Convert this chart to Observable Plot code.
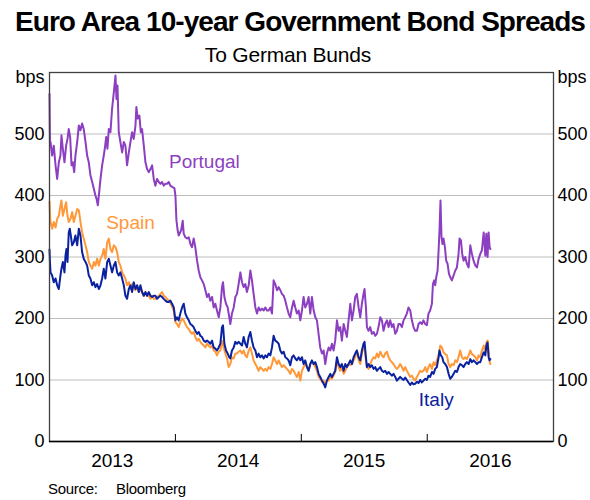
<!DOCTYPE html>
<html>
<head>
<meta charset="utf-8">
<script src="https://cdn.jsdelivr.net/npm/d3@7"></script>
<script src="https://cdn.jsdelivr.net/npm/@observablehq/plot@0.6"></script>
<style>
  body { margin: 0; background: #fff; font-family: Arial, "Liberation Sans", sans-serif; }
  #wrap { position: relative; width: 590px; height: 500px; overflow: hidden; }
  #title { position: absolute; top: 8px; left: 0; width: 600px; text-align: center; font-weight: bold; font-size: 28px; line-height: 1; letter-spacing: -0.95px; color: #000; white-space: nowrap; }
  #sub { position: absolute; top: 44px; left: 0; width: 576px; text-align: center; font-size: 21px; line-height: 1; letter-spacing: -0.2px; color: #000; white-space: nowrap; }
  #chart { position: absolute; top: 62px; left: 0; }
  #src { position: absolute; top: 481px; left: 48px; font-size: 15px; line-height: 1; color: #000; letter-spacing: -0.3px; white-space: nowrap; }
  #src span { display: inline-block; width: 68px; }
</style>
</head>
<body>
<div id="wrap">
  <div id="title">Euro Area 10-year Government Bond Spreads</div>
  <div id="sub">To German Bunds</div>
  <div id="chart"></div>
  <div id="src"><span>Source:</span>Bloomberg</div>
</div>
<script>
// Decimal-year dates and spreads in basis points
const portugal = [[2013.000,565],[2013.004,480],[2013.008,487],[2013.021,465],[2013.034,481],[2013.048,449],[2013.061,427],[2013.074,454],[2013.087,465],[2013.095,498],[2013.106,476],[2013.119,454],[2013.132,481],[2013.143,492],[2013.153,508],[2013.164,495],[2013.175,449],[2013.185,454],[2013.196,438],[2013.206,465],[2013.220,487],[2013.233,514],[2013.246,506],[2013.259,517],[2013.272,508],[2013.286,487],[2013.299,465],[2013.312,454],[2013.325,433],[2013.339,422],[2013.352,411],[2013.365,400],[2013.373,395],[2013.384,384],[2013.392,400],[2013.405,427],[2013.418,449],[2013.431,465],[2013.439,476],[2013.450,495],[2013.460,476],[2013.471,508],[2013.484,503],[2013.497,541],[2013.511,568],[2013.524,595],[2013.532,557],[2013.540,579],[2013.550,503],[2013.563,487],[2013.577,470],[2013.590,487],[2013.603,481],[2013.616,449],[2013.630,470],[2013.643,487],[2013.656,503],[2013.669,492],[2013.683,514],[2013.690,544],[2013.701,525],[2013.714,530],[2013.725,503],[2013.735,508],[2013.749,481],[2013.762,454],[2013.775,443],[2013.788,438],[2013.802,443],[2013.815,449],[2013.828,427],[2013.841,416],[2013.854,427],[2013.868,422],[2013.881,419],[2013.894,422],[2013.907,416],[2013.921,419],[2013.934,419],[2013.947,422],[2013.960,416],[2013.973,414],[2013.992,412],[2014.000,400],[2014.008,360],[2014.018,343],[2014.026,335],[2014.045,343],[2014.058,359],[2014.066,338],[2014.079,332],[2014.092,330],[2014.106,332],[2014.119,321],[2014.132,316],[2014.145,330],[2014.158,316],[2014.172,294],[2014.185,278],[2014.198,267],[2014.211,262],[2014.225,256],[2014.238,246],[2014.251,235],[2014.264,240],[2014.277,229],[2014.291,235],[2014.304,218],[2014.317,224],[2014.330,213],[2014.344,202],[2014.357,218],[2014.370,251],[2014.378,259],[2014.389,235],[2014.402,224],[2014.415,218],[2014.428,202],[2014.436,191],[2014.449,208],[2014.463,218],[2014.476,235],[2014.489,240],[2014.502,256],[2014.516,275],[2014.529,259],[2014.542,251],[2014.555,256],[2014.568,243],[2014.582,254],[2014.595,278],[2014.608,262],[2014.621,240],[2014.635,218],[2014.648,208],[2014.661,218],[2014.674,213],[2014.688,216],[2014.701,213],[2014.714,218],[2014.727,213],[2014.740,213],[2014.754,218],[2014.767,208],[2014.780,262],[2014.793,256],[2014.807,246],[2014.820,251],[2014.833,246],[2014.846,240],[2014.860,237],[2014.873,229],[2014.886,218],[2014.899,208],[2014.912,202],[2014.926,218],[2014.939,229],[2014.952,218],[2014.965,208],[2014.979,213],[2014.992,197],[2015.005,213],[2015.018,235],[2015.031,218],[2015.045,224],[2015.058,235],[2015.071,208],[2015.084,235],[2015.098,213],[2015.111,202],[2015.124,197],[2015.137,175],[2015.150,153],[2015.164,143],[2015.177,148],[2015.190,126],[2015.203,143],[2015.217,153],[2015.230,148],[2015.243,159],[2015.256,148],[2015.269,164],[2015.283,197],[2015.296,180],[2015.309,186],[2015.322,164],[2015.336,191],[2015.349,180],[2015.362,170],[2015.375,197],[2015.389,224],[2015.402,197],[2015.415,213],[2015.428,235],[2015.441,240],[2015.455,218],[2015.468,202],[2015.481,224],[2015.494,240],[2015.502,248],[2015.513,218],[2015.521,186],[2015.534,180],[2015.547,186],[2015.560,175],[2015.574,178],[2015.587,172],[2015.600,175],[2015.613,186],[2015.627,202],[2015.640,197],[2015.653,180],[2015.666,191],[2015.680,197],[2015.693,186],[2015.706,197],[2015.719,186],[2015.732,191],[2015.746,175],[2015.759,180],[2015.772,191],[2015.785,191],[2015.799,186],[2015.812,197],[2015.825,202],[2015.838,208],[2015.851,218],[2015.865,213],[2015.878,197],[2015.891,186],[2015.904,180],[2015.918,180],[2015.931,191],[2015.944,194],[2015.957,191],[2015.970,197],[2015.984,191],[2015.997,189],[2016.010,208],[2016.023,213],[2016.037,224],[2016.045,256],[2016.055,262],[2016.063,254],[2016.071,267],[2016.082,278],[2016.090,311],[2016.097,343],[2016.105,392],[2016.113,332],[2016.121,321],[2016.129,330],[2016.140,316],[2016.150,294],[2016.161,289],[2016.172,273],[2016.182,267],[2016.195,262],[2016.209,270],[2016.222,278],[2016.235,283],[2016.248,305],[2016.256,330],[2016.267,327],[2016.277,305],[2016.288,294],[2016.301,300],[2016.314,289],[2016.328,283],[2016.341,319],[2016.354,305],[2016.367,294],[2016.381,286],[2016.394,283],[2016.407,297],[2016.420,305],[2016.433,311],[2016.447,340],[2016.460,302],[2016.468,338],[2016.478,300],[2016.486,340],[2016.494,316],[2016.500,313]];

const spain = [[2013.000,390],[2013.004,370],[2013.008,357],[2013.021,346],[2013.034,357],[2013.048,348],[2013.061,362],[2013.074,367],[2013.087,384],[2013.095,392],[2013.106,367],[2013.119,378],[2013.132,389],[2013.143,367],[2013.153,357],[2013.167,362],[2013.180,373],[2013.193,357],[2013.206,367],[2013.220,378],[2013.233,376],[2013.246,357],[2013.259,340],[2013.272,330],[2013.286,319],[2013.299,308],[2013.312,292],[2013.325,286],[2013.339,281],[2013.352,292],[2013.365,286],[2013.378,297],[2013.392,286],[2013.405,297],[2013.418,302],[2013.431,313],[2013.444,297],[2013.458,324],[2013.471,330],[2013.484,313],[2013.497,308],[2013.511,319],[2013.524,316],[2013.537,308],[2013.550,292],[2013.563,286],[2013.577,275],[2013.590,270],[2013.603,265],[2013.616,254],[2013.630,259],[2013.643,248],[2013.656,256],[2013.669,251],[2013.683,246],[2013.696,254],[2013.709,243],[2013.722,248],[2013.735,243],[2013.749,237],[2013.762,243],[2013.775,237],[2013.788,237],[2013.802,232],[2013.815,237],[2013.828,232],[2013.841,232],[2013.854,235],[2013.868,237],[2013.881,240],[2013.894,243],[2013.907,237],[2013.921,235],[2013.934,232],[2013.947,229],[2013.960,226],[2013.987,213],[2014.000,194],[2014.013,191],[2014.026,186],[2014.039,194],[2014.053,200],[2014.066,197],[2014.079,191],[2014.092,186],[2014.106,183],[2014.119,178],[2014.132,175],[2014.145,178],[2014.158,170],[2014.172,164],[2014.185,167],[2014.198,162],[2014.211,159],[2014.225,156],[2014.238,153],[2014.251,159],[2014.264,156],[2014.277,153],[2014.291,156],[2014.304,148],[2014.317,146],[2014.330,140],[2014.344,146],[2014.357,148],[2014.370,164],[2014.383,153],[2014.397,143],[2014.410,135],[2014.423,121],[2014.436,126],[2014.449,137],[2014.463,135],[2014.476,143],[2014.489,143],[2014.502,146],[2014.516,148],[2014.529,143],[2014.542,148],[2014.555,140],[2014.568,137],[2014.582,148],[2014.595,153],[2014.608,143],[2014.621,132],[2014.635,126],[2014.648,121],[2014.661,115],[2014.674,121],[2014.688,118],[2014.701,115],[2014.714,118],[2014.727,115],[2014.740,121],[2014.754,118],[2014.767,126],[2014.780,137],[2014.793,132],[2014.807,126],[2014.820,132],[2014.833,126],[2014.846,121],[2014.860,124],[2014.873,121],[2014.886,118],[2014.899,115],[2014.912,110],[2014.926,118],[2014.939,115],[2014.952,110],[2014.965,105],[2014.979,113],[2014.992,99],[2015.005,115],[2015.018,121],[2015.031,126],[2015.045,121],[2015.058,115],[2015.071,126],[2015.084,129],[2015.098,126],[2015.111,121],[2015.124,115],[2015.137,105],[2015.150,102],[2015.164,97],[2015.177,99],[2015.190,94],[2015.203,99],[2015.217,99],[2015.230,105],[2015.243,102],[2015.256,107],[2015.269,113],[2015.283,132],[2015.296,121],[2015.309,115],[2015.322,121],[2015.336,110],[2015.349,115],[2015.362,121],[2015.375,126],[2015.389,124],[2015.402,126],[2015.415,132],[2015.428,137],[2015.441,148],[2015.455,132],[2015.468,126],[2015.481,143],[2015.494,153],[2015.502,156],[2015.513,132],[2015.521,121],[2015.534,118],[2015.547,126],[2015.560,132],[2015.574,137],[2015.587,135],[2015.600,143],[2015.613,137],[2015.627,146],[2015.640,140],[2015.653,137],[2015.666,143],[2015.680,146],[2015.693,137],[2015.706,132],[2015.719,129],[2015.732,126],[2015.746,121],[2015.759,118],[2015.772,121],[2015.785,126],[2015.799,121],[2015.812,115],[2015.825,121],[2015.838,115],[2015.851,110],[2015.865,105],[2015.878,107],[2015.891,102],[2015.904,99],[2015.918,105],[2015.931,110],[2015.944,115],[2015.957,113],[2015.970,115],[2015.984,121],[2015.997,113],[2016.010,121],[2016.023,126],[2016.037,118],[2016.050,129],[2016.063,124],[2016.076,132],[2016.090,140],[2016.103,156],[2016.116,153],[2016.129,145],[2016.142,142],[2016.156,140],[2016.169,126],[2016.182,121],[2016.195,126],[2016.209,124],[2016.222,132],[2016.235,129],[2016.248,137],[2016.261,148],[2016.275,137],[2016.288,134],[2016.301,137],[2016.314,134],[2016.328,140],[2016.341,148],[2016.354,142],[2016.367,140],[2016.381,137],[2016.394,132],[2016.407,140],[2016.420,137],[2016.433,148],[2016.447,156],[2016.460,145],[2016.468,161],[2016.478,164],[2016.486,148],[2016.494,129],[2016.500,126]];

const italy = [[2013.000,312],[2013.004,290],[2013.008,275],[2013.021,270],[2013.034,259],[2013.048,265],[2013.061,254],[2013.074,248],[2013.087,270],[2013.095,281],[2013.106,292],[2013.119,275],[2013.127,302],[2013.135,313],[2013.143,292],[2013.153,340],[2013.161,346],[2013.169,335],[2013.180,319],[2013.193,324],[2013.206,335],[2013.220,319],[2013.233,346],[2013.246,335],[2013.259,308],[2013.272,297],[2013.286,292],[2013.299,286],[2013.312,270],[2013.325,265],[2013.339,254],[2013.352,259],[2013.365,251],[2013.378,256],[2013.392,248],[2013.405,254],[2013.418,265],[2013.431,281],[2013.444,265],[2013.458,292],[2013.471,297],[2013.484,286],[2013.497,275],[2013.511,286],[2013.524,292],[2013.537,275],[2013.550,270],[2013.563,275],[2013.577,265],[2013.590,254],[2013.603,237],[2013.616,232],[2013.630,248],[2013.643,254],[2013.656,243],[2013.669,259],[2013.683,248],[2013.696,254],[2013.709,243],[2013.722,254],[2013.735,243],[2013.749,237],[2013.762,243],[2013.775,237],[2013.788,243],[2013.802,237],[2013.815,235],[2013.828,237],[2013.841,237],[2013.854,232],[2013.868,235],[2013.881,237],[2013.894,235],[2013.907,232],[2013.921,229],[2013.934,227],[2013.947,227],[2013.960,229],[2013.973,224],[2013.987,218],[2014.000,197],[2014.013,202],[2014.026,197],[2014.039,208],[2014.053,218],[2014.066,224],[2014.079,208],[2014.092,202],[2014.106,197],[2014.119,191],[2014.132,189],[2014.145,186],[2014.158,180],[2014.172,175],[2014.185,178],[2014.198,172],[2014.211,170],[2014.225,164],[2014.238,162],[2014.251,164],[2014.264,162],[2014.277,159],[2014.291,164],[2014.304,153],[2014.317,151],[2014.330,148],[2014.344,153],[2014.357,159],[2014.370,186],[2014.378,189],[2014.389,159],[2014.402,148],[2014.415,143],[2014.428,137],[2014.436,135],[2014.449,148],[2014.463,153],[2014.476,162],[2014.489,159],[2014.502,162],[2014.516,159],[2014.529,156],[2014.542,170],[2014.555,159],[2014.568,153],[2014.582,170],[2014.595,178],[2014.608,164],[2014.621,153],[2014.635,148],[2014.648,137],[2014.661,143],[2014.674,137],[2014.688,140],[2014.701,135],[2014.714,140],[2014.727,137],[2014.740,143],[2014.754,140],[2014.767,153],[2014.780,172],[2014.793,164],[2014.807,162],[2014.820,159],[2014.833,148],[2014.846,143],[2014.860,146],[2014.873,137],[2014.886,135],[2014.899,132],[2014.912,124],[2014.926,137],[2014.939,140],[2014.952,135],[2014.965,132],[2014.979,137],[2014.992,132],[2015.005,137],[2015.018,126],[2015.031,132],[2015.045,121],[2015.058,115],[2015.071,126],[2015.084,132],[2015.098,126],[2015.111,129],[2015.124,121],[2015.137,110],[2015.150,105],[2015.164,99],[2015.177,94],[2015.190,88],[2015.203,99],[2015.217,105],[2015.230,110],[2015.243,105],[2015.256,110],[2015.269,115],[2015.283,137],[2015.296,126],[2015.309,121],[2015.322,126],[2015.336,115],[2015.349,126],[2015.362,121],[2015.375,126],[2015.389,132],[2015.402,126],[2015.415,137],[2015.428,143],[2015.441,148],[2015.455,137],[2015.468,132],[2015.481,148],[2015.494,159],[2015.502,162],[2015.513,137],[2015.521,121],[2015.534,126],[2015.547,121],[2015.560,124],[2015.574,118],[2015.587,121],[2015.600,115],[2015.613,118],[2015.627,121],[2015.640,115],[2015.653,113],[2015.666,115],[2015.680,110],[2015.693,113],[2015.706,110],[2015.719,107],[2015.732,110],[2015.746,105],[2015.759,99],[2015.772,102],[2015.785,105],[2015.799,102],[2015.812,100],[2015.825,104],[2015.838,100],[2015.851,96],[2015.865,92],[2015.878,96],[2015.891,93],[2015.904,94],[2015.918,97],[2015.931,95],[2015.944,100],[2015.957,96],[2015.970,99],[2015.984,102],[2015.997,100],[2016.010,107],[2016.023,105],[2016.037,113],[2016.050,110],[2016.063,118],[2016.076,121],[2016.090,137],[2016.097,148],[2016.108,140],[2016.119,137],[2016.129,129],[2016.142,126],[2016.156,121],[2016.169,110],[2016.182,102],[2016.195,105],[2016.209,110],[2016.222,115],[2016.235,113],[2016.248,121],[2016.261,126],[2016.275,124],[2016.288,121],[2016.301,126],[2016.314,129],[2016.328,126],[2016.341,134],[2016.354,129],[2016.367,132],[2016.381,129],[2016.394,126],[2016.407,129],[2016.420,129],[2016.433,137],[2016.447,145],[2016.460,140],[2016.468,156],[2016.478,161],[2016.486,137],[2016.494,132],[2016.500,134]];

const seriesNames = ["Portugal", "Spain", "Italy"];
const seriesColors = ["#8c3fc0", "#ff9838", "#0a22a0"];
const yTicks = [0, 100, 200, 300, 400, 500];
const gridValues = [100, 200, 300, 400, 500];
const unitLabel = "bps";
const yearBoundaries = [2014, 2015, 2016];
const yearLabels = [2013, 2014, 2015, 2016];
// label anchor positions (decimal year, bps)
const seriesLabelAt = [[2014.23, 455], [2013.643, 356], [2016.071, 67]];

function toDate(t) {
  const y = Math.floor(t);
  const s = Date.UTC(y, 0, 1), e = Date.UTC(y + 1, 0, 1);
  return new Date(s + (t - y) * (e - s));
}

const allSeries = [portugal, spain, italy];
const rows = [];
allSeries.forEach((arr, i) => arr.forEach(([t, v]) => rows.push({ date: toDate(t), value: v, name: seriesNames[i] })));
const labelRows = seriesLabelAt.map(([t, v], i) => ({ date: toDate(t), value: v, name: seriesNames[i] }));
const colorScale = { domain: seriesNames, range: seriesColors };

const font = 'Arial, "Liberation Sans", sans-serif';

const chart = Plot.plot({
  width: 590,
  height: 419,
  marginLeft: 49,
  marginRight: 37,
  marginTop: 10,
  marginBottom: 40,
  style: { fontFamily: font, fontSize: "18px", color: "#000", background: "#fff", overflow: "visible" },
  x: { type: "utc", domain: [new Date(Date.UTC(2013, 0, 1)), new Date(Date.UTC(2017, 0, 1))] },
  y: { domain: [0, 600] },
  color: colorScale,
  marks: [
    Plot.ruleY(gridValues, { stroke: "#bdbdbd", strokeWidth: 1.2 }),
    Plot.line(rows, { x: "date", y: "value", z: "name", stroke: "name", strokeWidth: 2, curve: "linear" }),
    Plot.text(labelRows, { x: "date", y: "value", text: "name", fill: "name", fontSize: 19, fontFamily: font, letterSpacing: "-0.5px" }),
    Plot.frame({ stroke: "#404040", strokeWidth: 1.3 }),
    Plot.axisY(yTicks, { anchor: "left", tickSize: 0, tickPadding: 5, label: null, fontSize: 18 }),
    Plot.axisY(yTicks, { anchor: "right", tickSize: 0, tickPadding: 4, label: null, fontSize: 18 }),
    Plot.axisY([600], { anchor: "left", tickSize: 0, tickPadding: 5, label: null, fontSize: 18, dy: 5, tickFormat: () => unitLabel }),
    Plot.axisY([600], { anchor: "right", tickSize: 0, tickPadding: 4, label: null, fontSize: 18, dy: 5, tickFormat: () => unitLabel }),
    Plot.axisX(yearBoundaries.map(y => new Date(Date.UTC(y, 0, 1))), { anchor: "bottom", tickSize: -7, tickFormat: () => "", label: null, stroke: "#000" }),
    Plot.axisX(yearLabels.map(y => new Date(Date.UTC(y, 6, 2))), { anchor: "bottom", tickSize: 0, tickPadding: 12, tickFormat: d => String(d.getUTCFullYear()), label: null, fontSize: 19 }),
    Plot.ruleY([0], { stroke: "#000", strokeWidth: 1.3 })
  ]
});
document.getElementById("chart").appendChild(chart);
</script>
</body>
</html>
